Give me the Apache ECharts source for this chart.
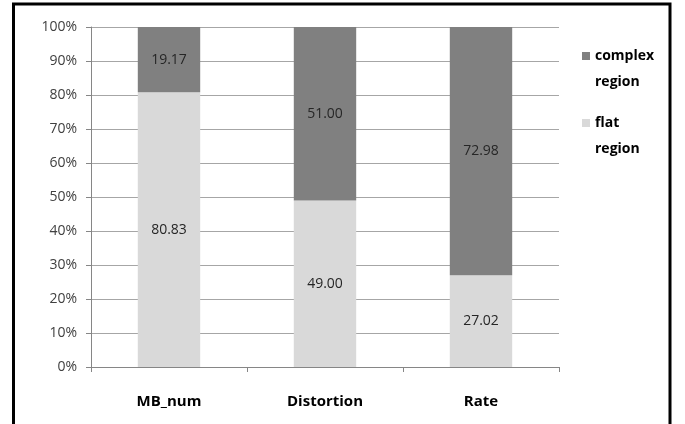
<!DOCTYPE html>
<html>
<head>
<meta charset="utf-8">
<script src="https://cdn.jsdelivr.net/npm/echarts@6/dist/echarts.min.js"></script>
<style>
html,body{margin:0;padding:0;background:#fff;}
#chart{width:685px;height:424px;}
</style>
</head>
<body>
<div id="chart"></div>
<script>
var categories = ['MB_num', 'Distortion', 'Rate'];
var flatRegion = [80.83, 49.00, 27.02];
var complexRegion = [19.17, 51.00, 72.98];
var yTicks = [0, 10, 20, 30, 40, 50, 60, 70, 80, 90, 100];

var FONT = '"Open Sans", "Noto Sans", sans-serif';
var chart = echarts.init(document.getElementById('chart'), null, {renderer: 'canvas'});

function labelCfg() {
  return {
    show: true,
    position: 'inside',
    color: '#262626',
    fontFamily: FONT,
    fontSize: 14,
    formatter: function (p) { return p.value.toFixed(2); }
  };
}

function legendCfg(name, top) {
  return {
    data: [name],
    left: 577,
    top: top,
    orient: 'vertical',
    itemWidth: 8,
    itemHeight: 8,
    icon: 'rect',
    selectedMode: false,
    formatter: function (n) { return ' \n' + n.replace(' ', '\n'); },
    textStyle: {
      fontFamily: FONT,
      fontSize: 14,
      fontWeight: 'bold',
      color: '#000',
      lineHeight: 26
    }
  };
}

chart.setOption({
  animation: false,
  backgroundColor: '#fff',
  grid: {left: 91, right: 126, top: 27, bottom: 57, containLabel: false},
  legend: [legendCfg('complex region', 12), legendCfg('flat region', 79)],
  xAxis: {
    type: 'category',
    data: categories,
    axisLine: {lineStyle: {color: '#868686', width: 1}},
    axisTick: {show: true, length: 5, lineStyle: {color: '#868686'}},
    axisLabel: {margin: 27, fontFamily: FONT, fontSize: 15, fontWeight: 'bold', color: '#000'}
  },
  yAxis: {
    type: 'value',
    min: yTicks[0],
    max: yTicks[yTicks.length - 1],
    interval: yTicks[1] - yTicks[0],
    axisLine: {show: true, lineStyle: {color: '#868686', width: 1}},
    axisTick: {show: true, length: 5, lineStyle: {color: '#868686'}},
    splitLine: {show: true, lineStyle: {color: '#a6a6a6', width: 1}},
    axisLabel: {margin: 14, fontFamily: FONT, fontSize: 14, color: '#404040',
      formatter: function (v) { return v + '%'; }}
  },
  series: [
    {
      name: 'flat region', type: 'bar', stack: 'total', data: flatRegion,
      barWidth: '40%', itemStyle: {color: '#d9d9d9'}, label: labelCfg()
    },
    {
      name: 'complex region', type: 'bar', stack: 'total', data: complexRegion,
      barWidth: '40%', itemStyle: {color: '#808080'}, label: labelCfg()
    }
  ],
  graphic: [{
    type: 'rect',
    shape: {x: 13.5, y: 4, width: 656.5, height: 430},
    style: {fill: 'none', stroke: '#000', lineWidth: 3},
    silent: true
  }]
});
</script>
</body>
</html>
